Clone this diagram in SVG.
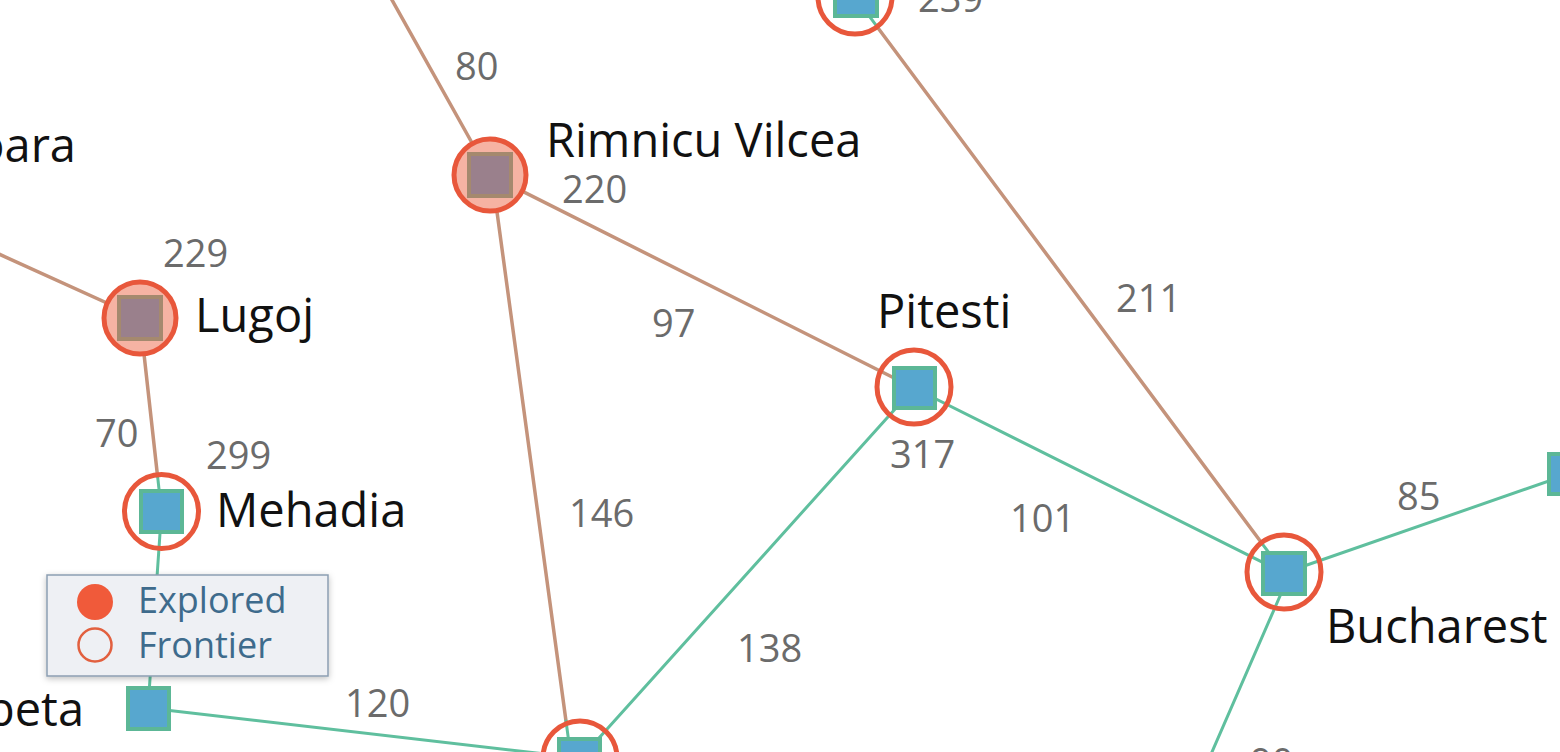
<svg xmlns="http://www.w3.org/2000/svg" width="1560" height="752" viewBox="0 0 1560 752">
<defs>
<style>
.eb{stroke:#c4937b;stroke-width:3.5;fill:none;stroke-linecap:round}
.eg{stroke:#5fbf9e;stroke-width:3;fill:none;stroke-linecap:round}
.sq{fill:#57a7cf;stroke:#5cb796;stroke-width:4}
.sqx{fill:#9a808c;stroke:#a5896e;stroke-width:4}
.ring{fill:none;stroke:#e8573b;stroke-width:5}
.ringx{fill:#f6b3a3;stroke:#e8573b;stroke-width:5}
.lbl{font-family:"Open Sans","Noto Sans",sans-serif;font-size:47px;fill:#111}
.num{font-family:"Open Sans","Noto Sans",sans-serif;font-size:38px;fill:#6b6b6b}
.leg{font-family:"Open Sans","Noto Sans",sans-serif;font-size:36px;fill:#3e6b8c}
</style>
<filter id="sh" x="-10%" y="-20%" width="120%" height="140%">
<feDropShadow dx="0" dy="2" stdDeviation="3" flood-color="#000" flood-opacity="0.25"/>
</filter>
</defs>
<rect width="1560" height="752" fill="#ffffff"/>
<g id="connectors">
<line class="eb" x1="378" y1="-25" x2="490" y2="175"/>
<line class="eb" x1="-10" y1="250" x2="140" y2="318"/>
<line class="eb" x1="140" y1="318" x2="157.4" y2="474.7"/>
<line class="eg" x1="157.4" y1="474.7" x2="161.5" y2="511.5"/>
<line class="eg" x1="161.5" y1="511.5" x2="148" y2="708"/>
<line class="eg" x1="148" y1="708" x2="580" y2="758"/>
<line class="eb" x1="492" y1="175" x2="566" y2="721"/>
<line class="eg" x1="566" y1="721" x2="571" y2="758"/>
<line class="eb" x1="490" y1="175" x2="914" y2="388"/>
<line class="eg" x1="914" y1="388" x2="581" y2="758"/>
<line class="eg" x1="855" y1="-3" x2="877.1" y2="26.7"/>
<line class="eb" x1="877.1" y1="26.7" x2="1261.9" y2="543.3"/>
<line class="eg" x1="1261.9" y1="543.3" x2="1284" y2="573"/>
<line class="eg" x1="914" y1="388" x2="1284" y2="573"/>
<line class="eg" x1="1284" y1="573" x2="1569" y2="474"/>
<line class="eg" x1="1290" y1="573" x2="1205" y2="768"/>
</g>
<g id="sibiu">
<circle class="ring" cx="855" cy="-3" r="37"/>
<rect class="sq" x="835" y="-26" width="42" height="42"/>
<text class="num" x="918" y="12">239</text>
</g>
<g id="rimnicu-vilcea">
<circle class="ringx" cx="490" cy="175" r="36"/>
<rect class="sqx" x="469" y="154" width="42" height="42"/>
<text class="lbl" x="546" y="157">Rimnicu Vilcea</text>
<text class="num" x="562" y="203">220</text>
</g>
<g id="timisoara">
<text class="lbl" x="76" y="162" text-anchor="end">Timisoara</text>
</g>
<g id="lugoj">
<circle class="ringx" cx="140" cy="318" r="36"/>
<rect class="sqx" x="119" y="297" width="42" height="42"/>
<text class="lbl" x="195" y="332">Lugoj</text>
<text class="num" x="163" y="267">229</text>
</g>
<g id="mehadia">
<circle class="ring" cx="161.5" cy="511.5" r="37"/>
<rect class="sq" x="141" y="491" width="41" height="41"/>
<text class="lbl" x="216" y="527">Mehadia</text>
<text class="num" x="206" y="469">299</text>
</g>
<g id="drobeta">
<rect class="sq" x="128" y="688" width="41" height="41"/>
<text class="lbl" x="84" y="726" text-anchor="end">Drobeta</text>
</g>
<g id="craiova">
<circle class="ring" cx="580" cy="758" r="37"/>
<rect class="sq" x="559" y="739" width="41" height="41"/>
</g>
<g id="pitesti">
<circle class="ring" cx="914" cy="387" r="37"/>
<rect class="sq" x="894" y="368" width="41" height="40"/>
<text class="lbl" x="877" y="328">Pitesti</text>
<text class="num" x="890" y="468">317</text>
</g>
<g id="bucharest">
<circle class="ring" cx="1284" cy="572" r="37"/>
<rect class="sq" x="1263" y="553" width="42" height="41"/>
<text class="lbl" x="1326" y="643">Bucharest</text>
</g>
<g id="urziceni">
<rect class="sq" x="1549" y="454" width="42" height="40"/>
</g>
<g id="edge-labels">
<text class="num" x="455" y="80">80</text>
<text class="num" x="95" y="447">70</text>
<text class="num" x="345" y="717">120</text>
<text class="num" x="569" y="527">146</text>
<text class="num" x="652" y="337">97</text>
<text class="num" x="737" y="662">138</text>
<text class="num" x="1010" y="532">101</text>
<text class="num" x="1116" y="312">211</text>
<text class="num" x="1397" y="510">85</text>
<text class="num" x="1250" y="776">90</text>
</g>
<g id="legend">
<rect x="47" y="575" width="281" height="101" fill="#eef0f4" stroke="#8c9eb2" stroke-width="1.5" filter="url(#sh)"/>
<circle cx="95" cy="602" r="18" fill="#f05a3a"/>
<circle cx="95" cy="645" r="16.5" fill="none" stroke="#e2603f" stroke-width="2.5"/>
<text class="leg" x="138" y="613">Explored</text>
<text class="leg" x="138" y="658">Frontier</text>
</g>
</svg>
